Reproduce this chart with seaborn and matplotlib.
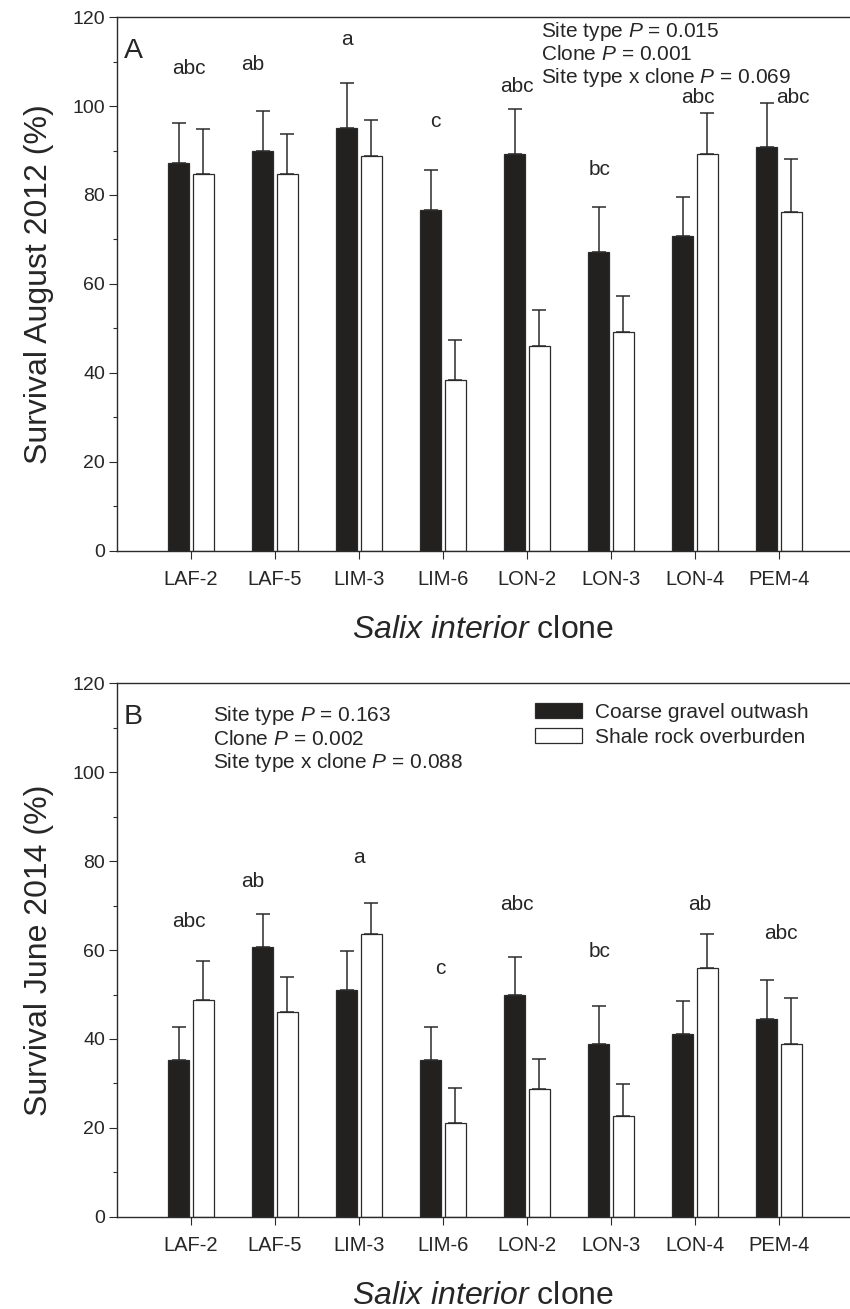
import numpy as np
import pandas as pd
import matplotlib
matplotlib.use("Agg")
import matplotlib.pyplot as plt
import matplotlib.ticker as mtick
import seaborn as sns

clones = ['LAF-2', 'LAF-5', 'LIM-3', 'LIM-6', 'LON-2', 'LON-3', 'LON-4', 'PEM-4']
sites = ['Coarse gravel outwash', 'Shale rock overburden']

# survival (%) and standard error, August 2012
gravel_2012 = [87.1, 90.0, 95.0, 76.7, 89.2, 67.3, 70.7, 90.7]
gravel_2012_se = [9.0, 8.9, 10.2, 8.9, 10.1, 10.1, 8.8, 9.9]
shale_2012 = [84.7, 84.8, 88.7, 38.5, 46.0, 49.1, 89.2, 76.2]
shale_2012_se = [10.2, 9.0, 8.2, 9.0, 8.2, 8.1, 9.2, 12.0]

# survival (%) and standard error, June 2014
gravel_2014 = [35.2, 60.7, 50.9, 35.2, 49.8, 38.8, 41.1, 44.5]
gravel_2014_se = [7.5, 7.5, 8.9, 7.6, 8.7, 8.6, 7.5, 8.7]
shale_2014 = [48.7, 46.0, 63.6, 21.2, 28.8, 22.8, 55.9, 38.9]
shale_2014_se = [8.9, 8.0, 6.9, 7.8, 6.8, 7.0, 7.8, 10.4]

letters_2012 = ['abc', 'ab', 'a', 'c', 'abc', 'bc', 'abc', 'abc']
letters_2014 = ['abc', 'ab', 'a', 'c', 'abc', 'bc', 'ab', 'abc']

stats_2012 = ['Site type $\\mathit{P}$ = 0.015', 'Clone $\\mathit{P}$ = 0.001',
              'Site type x clone $\\mathit{P}$ = 0.069']
stats_2014 = ['Site type $\\mathit{P}$ = 0.163', 'Clone $\\mathit{P}$ = 0.002',
              'Site type x clone $\\mathit{P}$ = 0.088']

# where the letters sit (offset from clone, baseline height)
letter_dx_2012 = [-0.03, -0.26, -0.14, -0.09, -0.12, -0.14, 0.04, 0.17]
letter_y_2012 = [107.1, 108.2, 113.7, 95.3, 103.1, 84.6, 100.6, 100.6]
letter_dx_2014 = [-0.03, -0.26, 0.0, -0.03, -0.12, -0.14, 0.05, 0.02]
letter_y_2014 = [65.2, 74.2, 79.5, 54.5, 69.0, 58.5, 69.0, 62.4]

sns.set_style('ticks')
plt.rcParams['font.family'] = ['Liberation Sans', 'DejaVu Sans']
plt.rcParams['mathtext.fontset'] = 'custom'
plt.rcParams['mathtext.rm'] = 'Liberation Sans'
plt.rcParams['mathtext.it'] = 'Liberation Sans:italic'

DARK = '#231f20'
EDGE = '#2b2b2b'


def make_df(gravel, shale):
    return pd.DataFrame({
        'clone': clones * 2,
        'site': [sites[0]] * len(clones) + [sites[1]] * len(clones),
        'survival': gravel + shale,
    })


fig = plt.figure(figsize=(8.5, 13.09), dpi=100)
ax_a = fig.add_axes([0.1376, 0.5791, 0.8624, 0.4079])
ax_b = fig.add_axes([0.1376, 0.0703, 0.8624, 0.4079])

panels = [
    (ax_a, make_df(gravel_2012, shale_2012), [gravel_2012_se, shale_2012_se],
     letters_2012, letter_dx_2012, letter_y_2012, stats_2012,
     4.17, [115.5, 110.3, 105.1], 'A', 'Survival August 2012 (%)'),
    (ax_b, make_df(gravel_2014, shale_2014), [gravel_2014_se, shale_2014_se],
     letters_2014, letter_dx_2014, letter_y_2014, stats_2014,
     0.26, [111.4, 106.1, 100.9], 'B', 'Survival June 2014 (%)'),
]

for (ax, df, ses, letters, ldx, ly, stats, sx, sy, tag, ylab) in panels:
    sns.barplot(data=df, x='clone', y='survival', hue='site', order=clones,
                hue_order=sites, palette={sites[0]: DARK, sites[1]: 'white'},
                width=0.59, gap=0.17, errorbar=None, edgecolor=EDGE,
                linewidth=0.9, legend=(tag == 'B'), ax=ax, zorder=2)

    # one-sided (upper) standard error bars, drawn behind the bars so the
    # lower cap is hidden
    for cont, se in zip(ax.containers, ses):
        xs = [p.get_x() + p.get_width() / 2 for p in cont.patches]
        hs = [p.get_height() for p in cont.patches]
        ax.errorbar(xs, hs, yerr=[np.zeros(len(se)), se], fmt='none',
                    ecolor=EDGE, elinewidth=1.1, capsize=5, capthick=1.1,
                    zorder=1)

    for i, (lab, dx, y) in enumerate(zip(letters, ldx, ly)):
        ax.text(i + dx, y, lab, ha='center', va='baseline', fontsize=15)

    for line, y in zip(stats, sy):
        ax.text(sx, y, line, ha='left', va='baseline', fontsize=15)

    ax.text(-0.8, 112.3, tag, ha='left', va='center', fontsize=20.5)

    ax.set_xlim(-0.881, 7.845)
    ax.set_ylim(0, 120)
    ax.yaxis.set_major_locator(mtick.MultipleLocator(20))
    ax.yaxis.set_minor_locator(mtick.MultipleLocator(10))
    ax.tick_params(axis='y', which='major', length=5.5, width=0.8,
                   labelsize=14, pad=3, color=EDGE)
    ax.tick_params(axis='y', which='minor', length=3, width=0.8, color=EDGE)
    ax.tick_params(axis='x', length=5.5, width=0.8, labelsize=14.5, pad=8,
                   color=EDGE)
    for side in ['left', 'bottom', 'top']:
        ax.spines[side].set_linewidth(1.0)
        ax.spines[side].set_color(EDGE)
        ax.spines[side].set_zorder(3)
    ax.spines['right'].set_visible(False)

    ax.set_ylabel(ylab, fontsize=23, labelpad=13)
    ax.set_xlabel('$\\mathit{Salix\\ interior}$ clone', fontsize=23,
                  labelpad=19)

leg = ax_b.get_legend()
handles = leg.legend_handles
leg.remove()
ax_b.legend(handles=handles, labels=sites, loc='upper left',
            bbox_to_anchor=(0.570, 0.9625), bbox_transform=ax_b.transAxes,
            frameon=False, fontsize=15, handlelength=2.26, handleheight=0.72,
            handletextpad=0.63, labelspacing=0.28, borderpad=0,
            borderaxespad=0)

fig.savefig('out.png', dpi=100)
